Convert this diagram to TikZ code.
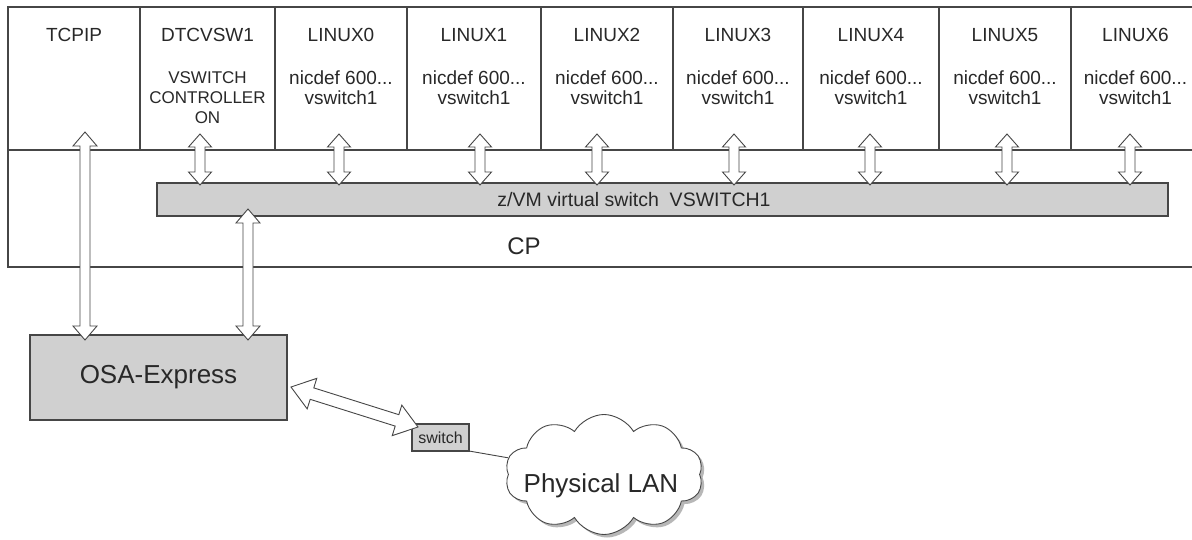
\documentclass[tikz,border=0pt]{standalone}
\usepackage{fontspec}
\setmainfont{Liberation Sans}
\usetikzlibrary{calc,shapes.symbols,shadows}
\definecolor{ln}{RGB}{70,70,70}
\definecolor{hatch}{RGB}{208,208,208}
\definecolor{tx}{RGB}{40,40,40}
\def\fatL{13pt}\def\fatH{11.5pt}\def\fatS{5pt}
\tikzset{
  box/.style={draw=ln, line width=1.1pt, inner sep=0pt, outer sep=0pt},
  colbox/.style={box, anchor=north west, minimum height=143pt},
  grayfill/.style={box, fill=hatch},
  title/.style={text=tx, font=\fontsize{19}{20}\selectfont, inner sep=0pt, anchor=base},
  sub/.style={text=tx, font=\fontsize{19}{20}\selectfont, align=center, inner sep=0pt, anchor=north},
  subsmall/.style={sub, font=\fontsize{17}{20}\selectfont},
  bigtext/.style={text=tx, inner sep=0pt, anchor=base},
  fat head/.code args={#1/#2/#3}{\def\fatL{#1}\def\fatH{#2}\def\fatS{#3}},
  fatdouble/.style={draw=ln, line width=0.9pt, fill=white, line join=miter,
    to path={
      -- ($(\tikztostart)!\fatL!(\tikztotarget)!\fatH!90:(\tikztotarget)$)
      -- ($(\tikztostart)!\fatL!(\tikztotarget)!\fatS!90:(\tikztotarget)$)
      -- ($(\tikztotarget)!\fatL!(\tikztostart)!\fatS!-90:(\tikztostart)$)
      -- ($(\tikztotarget)!\fatL!(\tikztostart)!\fatH!-90:(\tikztostart)$)
      -- (\tikztotarget)
      -- ($(\tikztotarget)!\fatL!(\tikztostart)!\fatH!90:(\tikztostart)$)
      -- ($(\tikztotarget)!\fatL!(\tikztostart)!\fatS!90:(\tikztostart)$)
      -- ($(\tikztostart)!\fatL!(\tikztotarget)!\fatS!-90:(\tikztotarget)$)
      -- ($(\tikztostart)!\fatL!(\tikztotarget)!\fatH!-90:(\tikztotarget)$)
      -- cycle}},
}
\begin{document}
\begin{tikzpicture}[x=1pt,y=-1pt]
\clip (0,0) rectangle (1192,540);
\fill[white] (0,0) rectangle (1192,540);
% guest columns
\foreach \nm/\xl/\xr in {ctcp/8/140, cdtc/140/275, cl0/275/407, cl1/407/541, cl2/541/673, cl3/673/803, cl4/803/939, cl5/939/1071, cl6/1071/1200}
  \node[colbox, minimum width={\xr-\xl}] (\nm) at (\xl,7) {};
% CP area
\node[box, anchor=north west, minimum width=1200, minimum height=117] (cp) at (8,150) {};
% titles
\node[title] (ttcp) at (74,42) {TCPIP};
\node[title] (tdtc) at (207.5,42) {DTCVSW1};
\node[subsmall] (sdtc) at (207.5,71) {VSWITCH\\CONTROLLER\\ON};
\foreach \i/\cx in {0/341,1/474,2/607,3/738,4/871,5/1005,6/1135.5} {
  \node[title] (tl\i) at (\cx,42) {LINUX\i};
  \node[sub] (sl\i) at (\cx,71) {nicdef 600...\\vswitch1};
}
% virtual switch bar
\node[grayfill, minimum width=1011, minimum height=33] (bar) at (662.5,199.5) {};
% CP label
\node[bigtext, font=\fontsize{24}{26}\selectfont] (cplab) at (524,255) {CP};
% OSA
\node[grayfill, minimum width=257, minimum height=85, text=tx, font=\fontsize{26}{28}\selectfont] (osa) at (158.5,377.5) {OSA-Express};
% switch
\node[grayfill, minimum width=57, minimum height=27, text=tx, font=\fontsize{16}{18}\selectfont] (sw) at (440.5,437.5) {switch};
% cloud
\node[cloud, cloud puffs=10, cloud puff arc=120, draw=ln, line width=0.9pt, fill=white,
      minimum width=198pt, minimum height=120pt,
      drop shadow={shadow xshift=3pt, shadow yshift=-3pt, fill=gray!70, opacity=0.8}] (lan) at (604,474.5) {};
\node[bigtext, font=\fontsize{26}{28}\selectfont] (lantxt) at (601,492) {Physical LAN};
\draw[ln, line width=0.9pt] (sw.south east) -- (lan);
% vertical arrows between guests and the switch
\foreach \x [count=\i] in {200,339,480,597,734,870,1007,1130} {
  \coordinate (vt\i) at (\x,134);
  \coordinate (vb\i) at (\x,185);
  \draw[fatdouble] (vt\i) to (vb\i);
}
% TCPIP to OSA
\coordinate (tcpT) at (85,132);
\coordinate (tcpB) at (85,340);
\draw[fatdouble, fat head={14pt/12pt/5pt}] (tcpT) to (tcpB);
% switch bar to OSA
\coordinate (osaT) at (248,209);
\coordinate (osaB) at (248,340);
\draw[fatdouble, fat head={14pt/12pt/5pt}] (osaT) to (osaB);
% OSA to physical switch
\coordinate (dA) at (291,387);
\coordinate (dB) at (418,427);
\draw[fatdouble, fat head={22pt/16pt/6pt}] (dA) to (dB);
% bar label
\node[bigtext, font=\fontsize{19.5}{21}\selectfont] (bartxt) at (634,207) {z/VM virtual switch\ \ VSWITCH1};
\end{tikzpicture}
\end{document}
